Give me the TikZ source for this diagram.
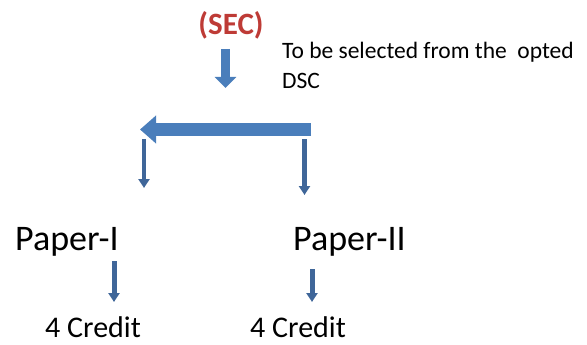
\documentclass[tikz,border=0pt]{standalone}
\usepackage{fontspec}
\setmainfont{Carlito}
\usepackage{tikz}
\usetikzlibrary{arrows.meta}
\usetikzlibrary{calc, positioning}

\definecolor{secred}{HTML}{BE3B36}
\definecolor{boxblue}{HTML}{4A7EBB}
\definecolor{darkblue}{HTML}{3F6699}

\begin{document}
\begin{tikzpicture}[x=1pt,y=-1pt,
    txt/.style={inner sep=0pt, anchor=base west},
    thinarrow/.style={-{Triangle[length=9pt,width=11pt]}, line width=5pt, darkblue}]
        \useasboundingbox (0,0) rectangle (587,345);

            % heading and note
            \node (sec) at (231,25) [inner sep=0pt, secred, font=\fontsize{31}{36}\selectfont\bfseries] {(SEC)};
            \node (note) at (282,42) [inner sep=0pt, anchor=north west, align=left, font=\fontsize{23.5}{30}\selectfont] {To be selected from the\ \ opted\\DSC};

            \coordinate (secA) at (225.5,49);
            \coordinate (secB) at (225.5,88);
            \draw[boxblue, line width=9pt, -{Triangle[length=11pt,width=21pt]}] (secA)--(secB);

            % the long arrow to the left
            \coordinate (barR) at (311,129.5);
            \coordinate (barL) at (140,129.5);
            \draw[boxblue, line width=13pt, -{Triangle[length=16pt,width=27pt]}] (barR)--(barL);

            \coordinate (leftA) at (144,139);
            \coordinate (leftB) at (144,188);
            \coordinate (rightA) at (304.5,139);
            \coordinate (rightB) at (304.5,195);
            \draw[thinarrow, line width=4.5pt] (leftA)--(leftB);
            \draw[thinarrow] (rightA)--(rightB);

            % papers
            \node (paperI) at (15,250) [txt, font=\fontsize{36}{40}\selectfont] {Paper-I};
            \node (paperII) at (293,250) [txt, font=\fontsize{36}{40}\selectfont] {Paper-II};

            \node (creditI) at (45,337) [txt, font=\fontsize{30}{34}\selectfont] {4 Credit};
            \node (creditII) at (250,337) [txt, font=\fontsize{30}{34}\selectfont] {4 Credit};

            \coordinate (pIa) at (114,261);
            \coordinate (pIb) at (114,302);
            \coordinate (pIIa) at (312,269);
            \coordinate (pIIb) at (312,302);
            \draw[thinarrow] (pIa)--(pIb);
            \draw[thinarrow] (pIIa)--(pIIb);
        \end{tikzpicture}
\end{document}
